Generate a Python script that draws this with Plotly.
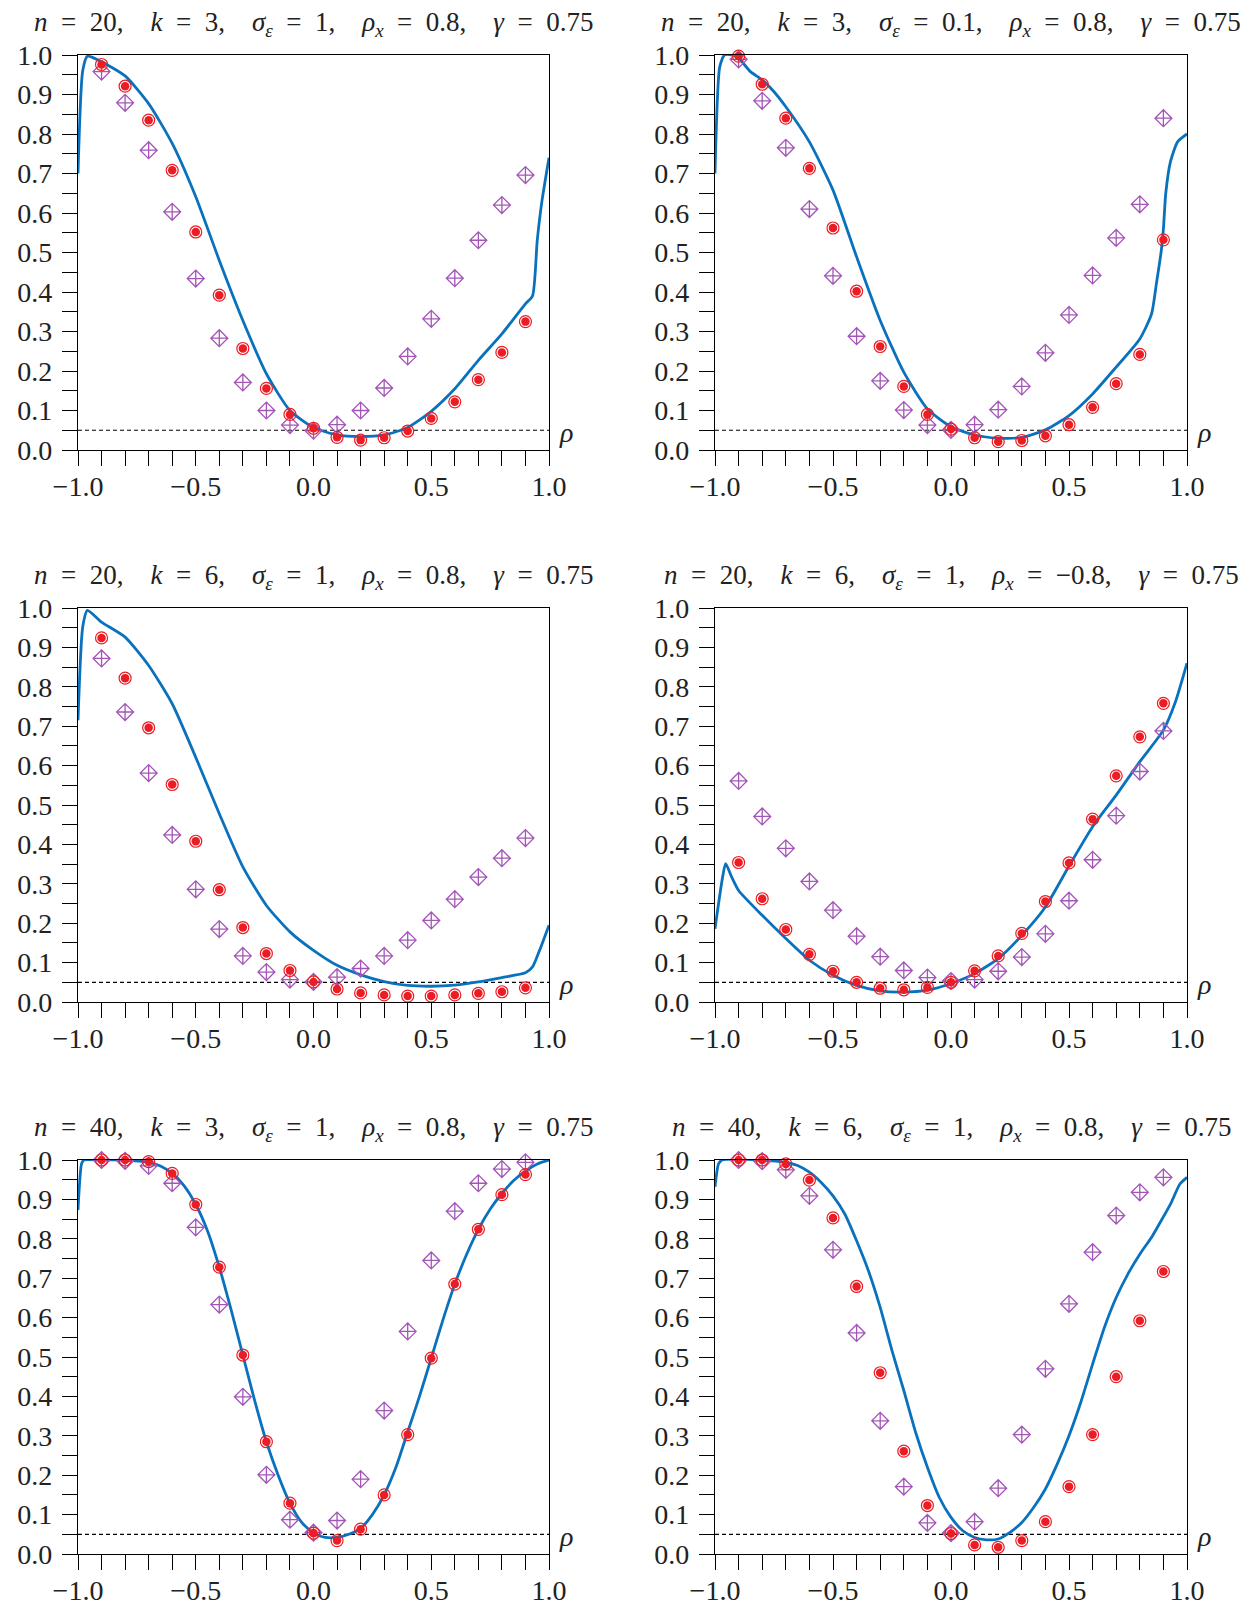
import plotly.graph_objects as go

# x positions of the simulated points
x_pts = [-0.9, -0.8, -0.7, -0.6, -0.5, -0.4, -0.3, -0.2, -0.1, 0.0,
         0.1, 0.2, 0.3, 0.4, 0.5, 0.6, 0.7, 0.8, 0.9]

rho_level = 0.05

# settings shown in each panel title: n, k, sigma_eps, rho_x, gamma
n_vals = ["20", "20", "20", "20", "40", "40"]
k_vals = ["3", "3", "6", "6", "3", "6"]
sigma_vals = ["1", "0.1", "1", "1", "1", "1"]
rhox_vals = ["0.8", "0.8", "0.8", "−0.8", "0.8", "0.8"]
gamma_vals = ["0.75", "0.75", "0.75", "0.75", "0.75", "0.75"]

# panel 1
red_1 = [0.976, 0.921, 0.835, 0.708, 0.552, 0.392, 0.257, 0.156, 0.090, 0.055,
         0.032, 0.025, 0.031, 0.048, 0.080, 0.122, 0.178, 0.247, 0.325]
purple_1 = [0.958, 0.879, 0.759, 0.603, 0.434, 0.283, 0.171, 0.100, 0.063, 0.049,
            0.064, 0.100, 0.157, 0.237, 0.332, 0.435, 0.531, 0.620, 0.696]
blue_x_1 = [-1.0, -0.98, -0.96, -0.9, -0.8, -0.7, -0.6, -0.5, -0.4, -0.3, -0.2, -0.1,
            0.0, 0.1, 0.2, 0.3, 0.4, 0.5, 0.6, 0.7, 0.8, 0.9, 0.93, 0.95, 0.97, 1.0]
blue_y_1 = [0.70, 0.96, 0.997, 0.983, 0.947, 0.877, 0.776, 0.641, 0.480, 0.328, 0.193, 0.100,
            0.057, 0.038, 0.034, 0.038, 0.057, 0.098, 0.155, 0.227, 0.294, 0.370, 0.39, 0.53, 0.63, 0.74]

# panel 2
red_2 = [0.997, 0.926, 0.840, 0.713, 0.562, 0.402, 0.262, 0.161, 0.090, 0.053,
         0.031, 0.021, 0.024, 0.036, 0.064, 0.108, 0.168, 0.242, 0.532]
purple_2 = [0.989, 0.884, 0.765, 0.610, 0.441, 0.288, 0.175, 0.101, 0.063, 0.051,
            0.064, 0.102, 0.161, 0.246, 0.342, 0.442, 0.537, 0.622, 0.840]
blue_x_2 = [-1.0, -0.98, -0.96, -0.93, -0.9, -0.85, -0.8, -0.75, -0.7, -0.6, -0.5, -0.4,
            -0.3, -0.2, -0.1, 0.0, 0.1, 0.2, 0.3, 0.4, 0.5, 0.6, 0.7, 0.8, 0.85, 0.87,
            0.89, 0.9, 0.91, 0.93, 0.96, 1.0]
blue_y_2 = [0.70, 0.97, 1.0, 1.0, 0.992, 0.958, 0.937, 0.907, 0.869, 0.780, 0.658, 0.489,
            0.328, 0.197, 0.104, 0.059, 0.038, 0.030, 0.032, 0.051, 0.087, 0.142, 0.210, 0.281, 0.345, 0.42,
            0.50, 0.56, 0.65, 0.73, 0.78, 0.80]

# panel 3
red_3 = [0.924, 0.822, 0.696, 0.552, 0.408, 0.285, 0.189, 0.123, 0.080, 0.051,
         0.033, 0.023, 0.018, 0.015, 0.015, 0.018, 0.022, 0.026, 0.036]
purple_3 = [0.872, 0.736, 0.581, 0.424, 0.286, 0.185, 0.117, 0.076, 0.057, 0.051,
            0.063, 0.085, 0.117, 0.157, 0.207, 0.261, 0.317, 0.365, 0.416]
blue_x_3 = [-1.0, -0.98, -0.96, -0.9, -0.8, -0.7, -0.6, -0.5, -0.4, -0.3, -0.2, -0.1,
            0.0, 0.1, 0.2, 0.3, 0.4, 0.5, 0.6, 0.7, 0.8, 0.9, 0.93, 0.96, 1.0]
blue_y_3 = [0.715, 0.952, 0.994, 0.964, 0.926, 0.854, 0.757, 0.621, 0.478, 0.343, 0.245, 0.178,
            0.131, 0.093, 0.069, 0.052, 0.042, 0.040, 0.043, 0.051, 0.062, 0.074, 0.089, 0.131, 0.195]

# panel 4
red_4 = [0.354, 0.262, 0.184, 0.121, 0.078, 0.050, 0.035, 0.031, 0.037, 0.050,
         0.079, 0.117, 0.174, 0.255, 0.353, 0.464, 0.574, 0.673, 0.758]
purple_4 = [0.561, 0.471, 0.390, 0.306, 0.233, 0.167, 0.115, 0.080, 0.062, 0.053,
            0.057, 0.078, 0.114, 0.173, 0.257, 0.361, 0.473, 0.585, 0.688]
blue_x_4 = [-1.0, -0.97, -0.955, -0.93, -0.9, -0.8, -0.7, -0.6, -0.5, -0.4, -0.3, -0.2,
            -0.1, 0.0, 0.1, 0.2, 0.3, 0.4, 0.5, 0.6, 0.7, 0.8, 0.9, 0.95, 1.0]
blue_y_4 = [0.186, 0.309, 0.351, 0.318, 0.283, 0.220, 0.161, 0.106, 0.068, 0.042, 0.028, 0.025,
            0.030, 0.047, 0.072, 0.110, 0.169, 0.241, 0.345, 0.445, 0.525, 0.610, 0.690, 0.760, 0.860]

# panel 5
red_5 = [1.0, 1.0, 0.996, 0.966, 0.887, 0.728, 0.505, 0.285, 0.129, 0.053,
         0.034, 0.063, 0.150, 0.303, 0.497, 0.685, 0.824, 0.912, 0.963]
purple_5 = [1.0, 0.998, 0.985, 0.941, 0.829, 0.633, 0.399, 0.201, 0.087, 0.054,
            0.085, 0.190, 0.364, 0.565, 0.745, 0.870, 0.941, 0.977, 0.994]
blue_x_5 = [-1.0, -0.985, -0.975, -0.9, -0.8, -0.7, -0.65, -0.6, -0.55, -0.5, -0.45, -0.4,
            -0.35, -0.3, -0.25, -0.2, -0.15, -0.1, -0.05, 0.0, 0.05, 0.1, 0.15, 0.2, 0.25,
            0.3, 0.35, 0.4, 0.45, 0.5, 0.55, 0.6, 0.65, 0.7, 0.75, 0.8, 0.85, 0.9, 0.95, 1.0]
blue_y_5 = [0.873, 0.99, 1.0, 1.0, 1.0, 0.994, 0.985, 0.966, 0.935, 0.887, 0.820, 0.728,
            0.620, 0.505, 0.390, 0.285, 0.200, 0.129, 0.080, 0.053, 0.042, 0.042, 0.050, 0.065, 0.100,
            0.150, 0.220, 0.310, 0.400, 0.497, 0.595, 0.685, 0.760, 0.824, 0.875, 0.915, 0.948, 0.972, 0.990, 1.0]

# panel 6
red_6 = [1.0, 1.0, 0.990, 0.949, 0.853, 0.679, 0.460, 0.261, 0.123, 0.052,
         0.023, 0.017, 0.034, 0.082, 0.171, 0.303, 0.450, 0.592, 0.717]
purple_6 = [1.0, 0.997, 0.975, 0.909, 0.772, 0.561, 0.338, 0.171, 0.079, 0.053,
            0.082, 0.167, 0.303, 0.470, 0.635, 0.766, 0.859, 0.918, 0.956]
blue_x_6 = [-1.0, -0.985, -0.97, -0.8, -0.7, -0.65, -0.6, -0.55, -0.5, -0.45, -0.4, -0.35,
            -0.3, -0.25, -0.2, -0.15, -0.1, -0.05, 0.0, 0.05, 0.1, 0.15, 0.2, 0.25, 0.3,
            0.35, 0.4, 0.45, 0.5, 0.55, 0.6, 0.65, 0.7, 0.75, 0.8, 0.85, 0.88, 0.93, 0.97, 1.0]
blue_y_6 = [0.932, 0.99, 1.0, 1.0, 0.994, 0.986, 0.969, 0.943, 0.909, 0.863, 0.795, 0.719,
            0.626, 0.516, 0.415, 0.309, 0.220, 0.144, 0.093, 0.059, 0.042, 0.036, 0.038, 0.055, 0.080,
            0.118, 0.165, 0.228, 0.300, 0.385, 0.482, 0.575, 0.651, 0.711, 0.761, 0.804, 0.835, 0.888, 0.939, 0.956]

panels = [
    (red_1, purple_1, blue_x_1, blue_y_1),
    (red_2, purple_2, blue_x_2, blue_y_2),
    (red_3, purple_3, blue_x_3, blue_y_3),
    (red_4, purple_4, blue_x_4, blue_y_4),
    (red_5, purple_5, blue_x_5, blue_y_5),
    (red_6, purple_6, blue_x_6, blue_y_6),
]

W, H = 1252, 1604
FONT = "Liberation Serif"
TXT = "#222222"
BLUE = "#0a72bd"
RED = "#ec1c24"
PURPLE = "#a455b8"

# pixel boxes of the plot areas (left, right) and (top, bottom)
col_px = [(70, 541), (707, 1179)]
row_px = [(47, 442), (600, 994), (1152, 1546)]

EQ = "\u2002=\u2002"
SEP = ",\u2002\u2002"


def make_title(i):
    """Builds the panel title from the parameter lists."""
    return SEP.join([
        "<i>n</i>" + EQ + n_vals[i],
        "<i>k</i>" + EQ + k_vals[i],
        "<i>σ</i><sub><i>ε</i></sub>" + EQ + sigma_vals[i],
        "<i>ρ</i><sub><i>x</i></sub>" + EQ + rhox_vals[i],
        "<i>γ</i>" + EQ + gamma_vals[i],
    ])


fig = go.Figure()
layout = {}
annotations = []

for i, (red, purple, bx, by) in enumerate(panels):
    n = i + 1
    r, c = divmod(i, 2)
    xa = "x" if n == 1 else f"x{n}"
    ya = "y" if n == 1 else f"y{n}"
    xd = [col_px[c][0] / W, col_px[c][1] / W]
    yd = [1 - row_px[r][1] / H, 1 - row_px[r][0] / H]

    fig.add_trace(go.Scatter(
        x=[-1.0, 1.0], y=[rho_level, rho_level], mode="lines",
        line=dict(color="black", width=1.2, dash="4px,3px"),
        xaxis=xa, yaxis=ya, showlegend=False, hoverinfo="skip",
    ))
    fig.add_trace(go.Scatter(
        x=bx, y=by, mode="lines",
        line=dict(color=BLUE, width=2.8, shape="spline", smoothing=0.6),
        xaxis=xa, yaxis=ya, showlegend=False,
    ))
    fig.add_trace(go.Scatter(
        x=x_pts, y=purple, mode="markers",
        marker=dict(symbol="diamond-cross-open", size=13, color=PURPLE,
                    line=dict(width=1.3, color=PURPLE)),
        xaxis=xa, yaxis=ya, showlegend=False, cliponaxis=False,
    ))
    fig.add_trace(go.Scatter(
        x=x_pts, y=red, mode="markers",
        marker=dict(symbol="circle-open", size=12, color=RED,
                    line=dict(width=1.2, color=RED)),
        xaxis=xa, yaxis=ya, showlegend=False, cliponaxis=False,
    ))
    fig.add_trace(go.Scatter(
        x=x_pts, y=red, mode="markers",
        marker=dict(symbol="circle", size=8.5, color=RED, line=dict(width=0)),
        xaxis=xa, yaxis=ya, showlegend=False, cliponaxis=False,
    ))

    axis_common = dict(
        showline=True, mirror=True, linecolor="black", linewidth=1.2,
        showgrid=False, zeroline=False, automargin=False,
        ticks="outside", ticklen=15, tickwidth=1.2, tickcolor="black",
        tickformat=".1f",
        tickfont=dict(family=FONT, size=28, color=TXT),
    )
    minor_common = dict(ticks="outside", ticklen=15, tickwidth=1.2, tickcolor="black")
    layout["xaxis" if n == 1 else f"xaxis{n}"] = dict(
        axis_common, domain=xd, anchor=ya, range=[-1, 1], dtick=0.5, tick0=-1,
        ticklabelstandoff=-4,
        minor=dict(minor_common, dtick=0.1, tick0=-1),
    )
    layout["yaxis" if n == 1 else f"yaxis{n}"] = dict(
        axis_common, domain=yd, anchor=xa, range=[0, 1], dtick=0.1, tick0=0,
        ticklabelstandoff=4,
        minor=dict(minor_common, dtick=0.05, tick0=0),
    )

    annotations.append(dict(
        text=make_title(i), xref="paper", yref="paper",
        x=(xd[0] + xd[1]) / 2, y=yd[1], yshift=12,
        xanchor="center", yanchor="bottom", showarrow=False,
        font=dict(family=FONT, size=27, color=TXT),
    ))
    annotations.append(dict(
        text="<i>ρ</i>", xref=f"{xa} domain", yref=ya,
        x=1.0, y=0.045, xshift=8, xanchor="left", yanchor="middle",
        showarrow=False, font=dict(family=FONT, size=28, color=TXT),
    ))

fig.update_layout(
    width=W, height=H, margin=dict(l=0, r=0, t=0, b=0),
    paper_bgcolor="white", plot_bgcolor="white",
    annotations=annotations, **layout,
)

fig.write_html("out.html")
